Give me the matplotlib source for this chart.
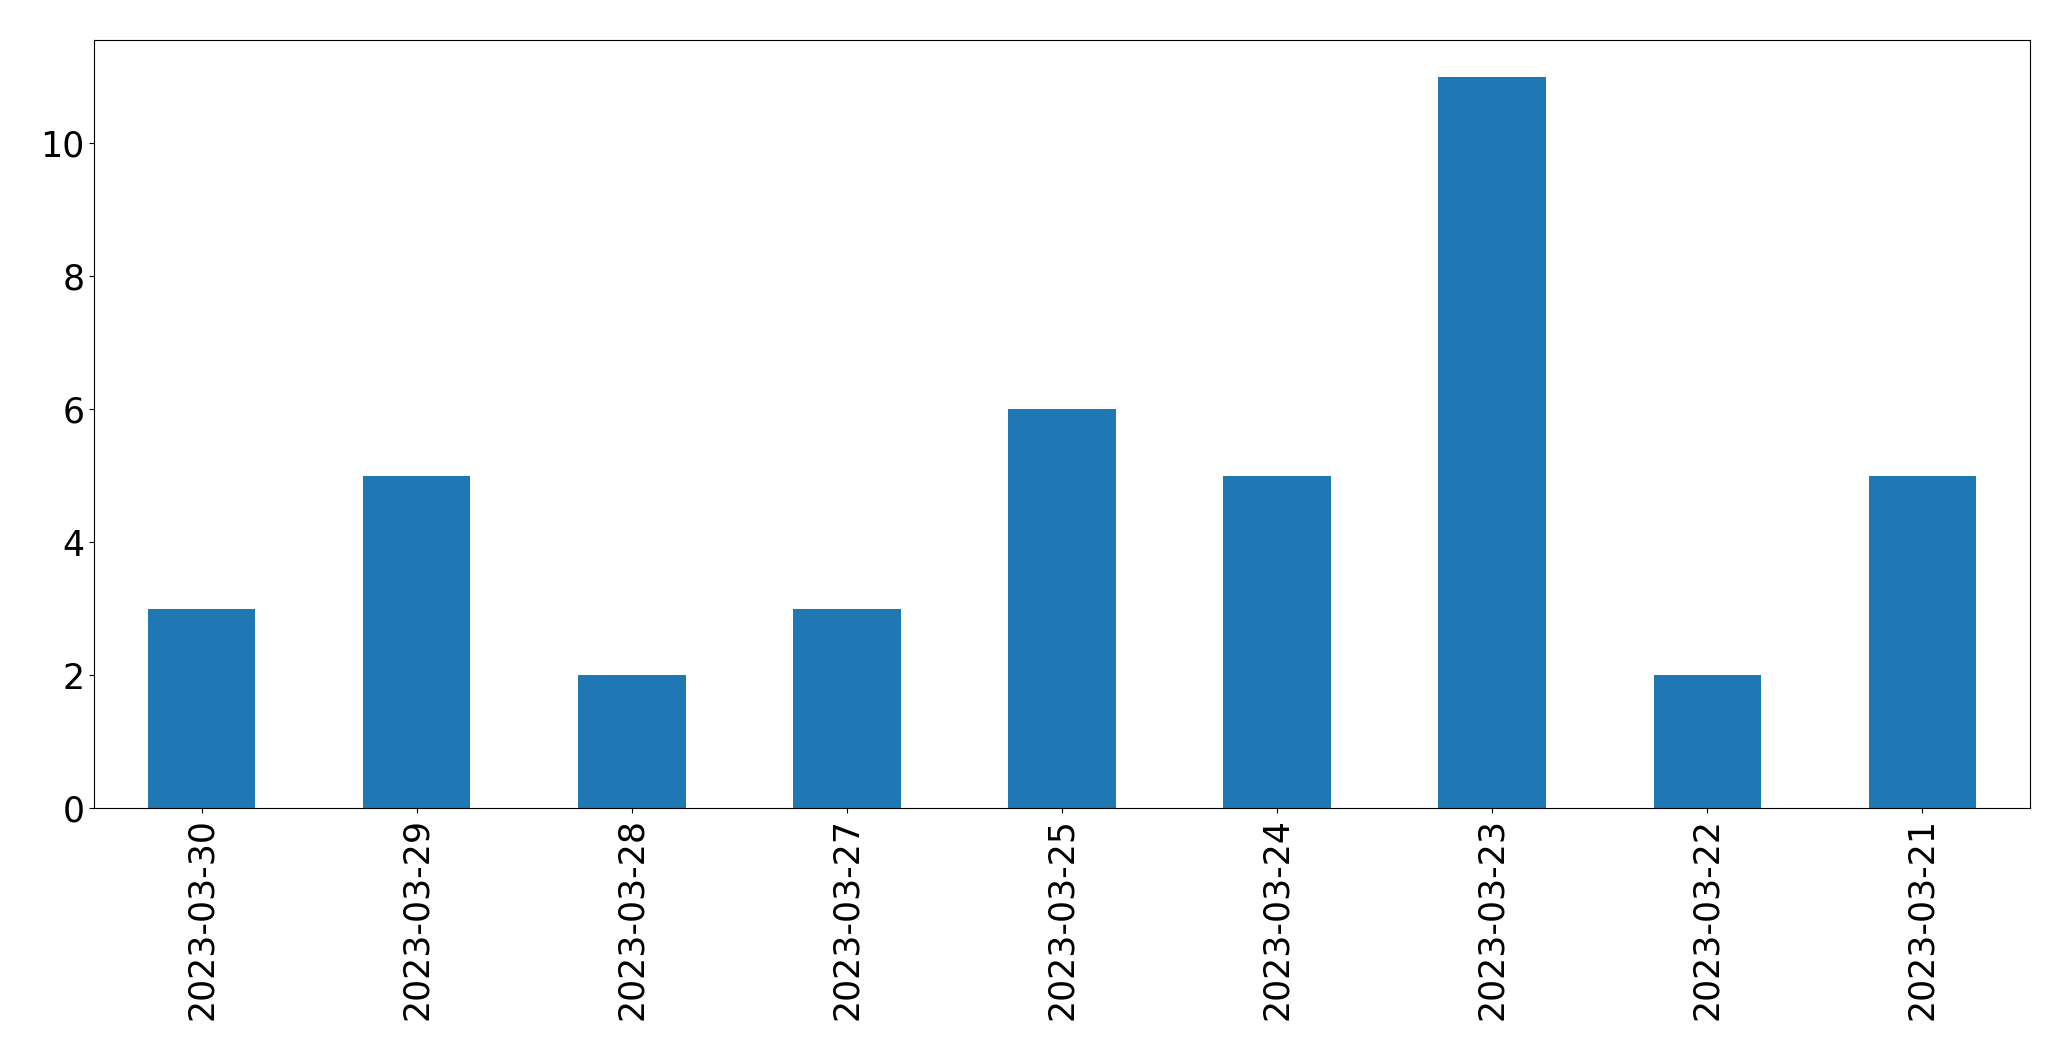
import matplotlib
matplotlib.use("Agg")
import matplotlib.pyplot as plt
import pandas as pd

dates = ["2023-03-30", "2023-03-29", "2023-03-28", "2023-03-27", "2023-03-25",
         "2023-03-24", "2023-03-23", "2023-03-22", "2023-03-21"]
counts = [3, 5, 2, 3, 6, 5, 11, 2, 5]

s = pd.Series(counts, index=dates)

fig, ax = plt.subplots(figsize=(20.71, 10.61), dpi=100)
s.plot(kind="bar", ax=ax, fontsize=25)
fig.subplots_adjust(left=94/2071, right=2030/2071, top=1-40/1061, bottom=1-808/1061)
fig.savefig("out.png", dpi=100)
